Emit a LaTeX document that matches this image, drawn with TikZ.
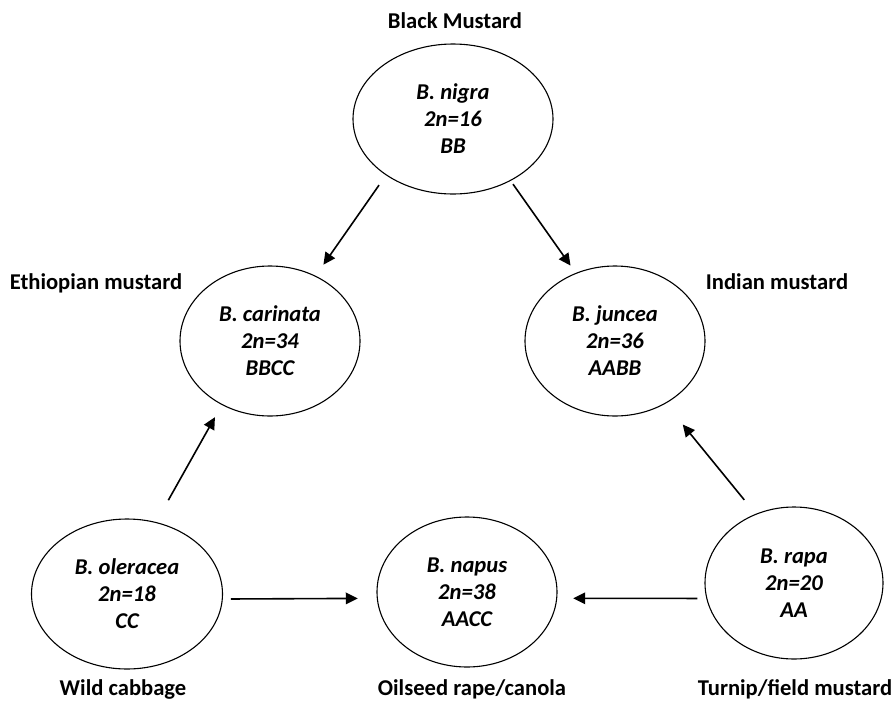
\documentclass[tikz,border=0pt]{standalone}
\usepackage{fontspec}
\setmainfont{Carlito}
\usetikzlibrary{shapes.geometric,arrows.meta}

\begin{document}
\begin{tikzpicture}[x=1pt,y=-1pt,->,>={Triangle[length=12pt,width=11.5pt]},
   sp/.style={ellipse,draw,line width=1.1pt,inner sep=0pt,minimum width=180pt,
     minimum height=150pt,align=center,font=\fontsize{22.6}{27}\selectfont\bfseries\itshape},
   lab/.style={anchor=base,font=\fontsize{22.6}{27}\selectfont\bfseries},
   every edge/.append style={line width=1.6pt}]
  \useasboundingbox (0,0) rectangle (895,702);
  % species
  \node[sp,minimum width=200pt] (nigra) at (453,119) {B. nigra\\2n=16\\BB};
  \node[sp] (carinata) at (270,341) {B. carinata\\2n=34\\BBCC};
  \node[sp] (juncea) at (615,341) {B. juncea\\2n=36\\AABB};
  \node[sp,minimum width=191pt] (oleracea) at (127,594) {B. oleracea\\2n=18\\CC};
  \node[sp] (napus) at (467,592) {B. napus\\2n=38\\AACC};
  \node[sp,minimum width=178pt,minimum height=152pt] (rapa) at (794,583) {B. rapa\\2n=20\\AA};
  % common names
  \node[lab] (lnigra) at (455,28) {Black Mustard};
  \node[lab] (lcarinata) at (96,289) {Ethiopian mustard};
  \node[lab] (ljuncea) at (777,289) {Indian mustard};
  \node[lab] (loleracea) at (123,695) {Wild cabbage};
  \node[lab] (lnapus) at (472,695) {Oilseed rape/canola};
  \node[lab] (lrapa) at (795,695) {Turnip/field mustard};
  \path
   (nigra.220) edge[shorten <=12pt,shorten >=13.5pt] (carinata.55)
   (nigra.313) edge[shorten <=4pt,shorten >=9pt] (juncea.120)
   (oleracea.68) edge[shorten <=25pt,shorten >=14pt] (carinata.233)
   (rapa.119) edge[shorten <=18pt,shorten >=27pt] (juncea.309)
   (oleracea.-3) edge[shorten <=8pt,shorten >=19pt] (napus.184)
   (rapa.190) edge[shorten <=9pt,shorten >=16pt] (napus.356);
\end{tikzpicture}
\end{document}
